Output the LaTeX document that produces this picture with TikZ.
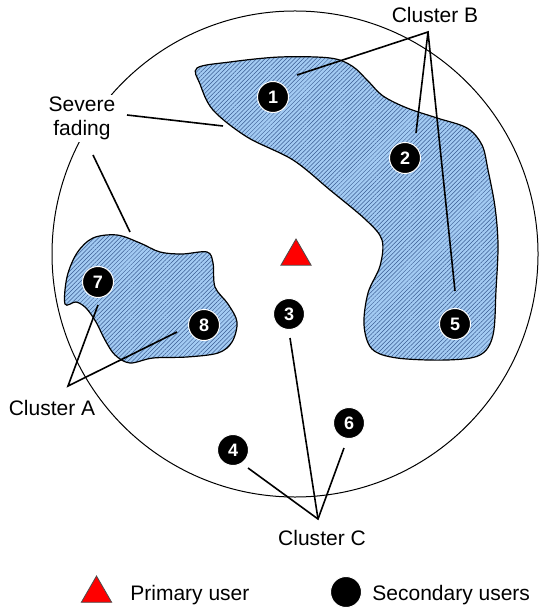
\documentclass[tikz,border=0pt]{standalone}
\usepackage{fontspec}
\setmainfont{Liberation Sans}
\usetikzlibrary{patterns.meta,shapes.geometric}
\definecolor{cBlob} {HTML}{A3CBF3}
\definecolor{cHatch}{HTML}{3A5C92}
\definecolor{cPu}   {HTML}{FF0000}
\tikzset{
  usr/.style  ={circle,fill=black,draw=white,line width=0.5pt,minimum size=15.5pt,
                inner sep=0pt,text=white,font=\fontsize{9}{10}\selectfont\bfseries},
  pu/.style   ={regular polygon,regular polygon sides=3,fill=cPu,draw=black!70,
                line width=0.4pt,minimum size=17.5pt,inner sep=0pt},
  lbl/.style  ={font=\fontsize{10.5}{12}\selectfont,inner sep=1pt},
  lead/.style ={draw=black,line width=0.8pt},
  blob/.style ={draw=black,line width=0.6pt,preaction={fill=cBlob},
                pattern={Lines[angle=45,distance=1.5pt,line width=0.25pt]},
                pattern color=cHatch},
}

\begin{document}
\begin{tikzpicture}[x=0.5pt,y=-0.5pt]
\useasboundingbox (0,0) rectangle (538,608);

% coverage area
\draw[line width=0.5pt] (295,254) circle [radius=121.5pt];

% faded regions
\draw[blob] plot[smooth cycle,tension=0.55] coordinates {
  (197,68) (230,62) (280,57) (330,58) (352,66) (368,81) (383,96) (407,108)
  (437,118) (467,128) (482,145) (488,170) (495,207) (498,245) (496,290)
  (493,335) (480,355) (447,360) (397,358) (372,349) (364,325) (368,293)
  (380,266) (382,240) (366,220) (330,190) (293,160) (247,137) (213,110)
  (200,84)};
\draw[blob] plot[smooth cycle,tension=0.55] coordinates {
  (67,277) (77,253) (93,238) (117,235) (140,243) (160,252) (182,254)
  (207,252) (213,263) (215,287) (228,304) (237,322) (232,342) (218,353)
  (187,357) (153,358) (130,363) (115,355) (105,340) (96,322) (86,308)
  (76,302) (65,304)};

% leader ends
\coordinate (bTop) at (428,32);
\coordinate (b1) at (297,75);
\coordinate (b2) at (416,133);
\coordinate (b5) at (455,291);
\coordinate (f1) at (127,115);
\coordinate (f2) at (223,126);
\coordinate (f3) at (93,155);
\coordinate (f4) at (130,232);
\coordinate (aTop) at (68,386);
\coordinate (a7) at (98,305);
\coordinate (a8) at (177,332);
\coordinate (cTop) at (318,519);
\coordinate (c3) at (290,338);
\coordinate (c4) at (248,468);
\coordinate (c6) at (344,448);

\draw[lead] (b1) -- (bTop) -- (b2);
\draw[lead] (bTop) -- (b5);
\draw[lead] (f1) -- (f2);
\draw[lead] (f3) -- (f4);
\draw[lead] (a7) -- (aTop) -- (a8);
\draw[lead] (c4) -- (cTop) -- (c6);
\draw[lead] (cTop) -- (c3);

% users
\node[pu] (pu0) at (296,256.5) {};
\node[usr] (u1) at (273,97) {1};
\node[usr] (u2) at (405,158) {2};
\node[usr] (u3) at (289,314) {3};
\node[usr] (u4) at (233,450) {4};
\node[usr] (u5) at (455,324) {5};
\node[usr] (u6) at (349,423) {6};
\node[usr] (u7) at (98,282) {7};
\node[usr] (u8) at (204,325) {8};

% labels
\node[lbl,anchor=base] (cB) at (435,23) {Cluster B};
\node[lbl,anchor=base] (cA) at (52,415) {Cluster A};
\node[lbl,anchor=base] (cC) at (322,545) {Cluster C};
\node[lbl,fill=white,align=center] (fad) at (82,118.5) {Severe\\fading};

% legend
\node[pu] (pu1) at (96.5,593.5) {};
\node[lbl,anchor=base west] (tPu) at (128,600) {Primary user};
\node[usr] (su) at (346,592) {};
\node[lbl,anchor=base west] (tSu) at (370,600) {Secondary users};
\end{tikzpicture}
\end{document}
